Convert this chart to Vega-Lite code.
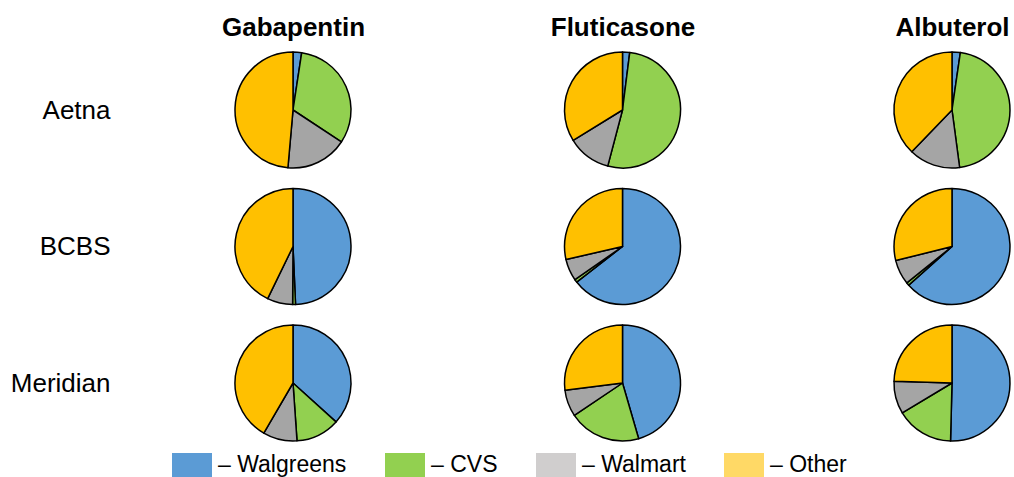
{
  "$schema": "https://vega.github.io/schema/vega-lite/v6.json",
  "autosize": {"type": "none"},
  "padding": {"left": 130, "top": 50, "right": 0, "bottom": 0},
  "width": 884,
  "height": 427,
  "background": "white",
  "config": {
    "view": {"stroke": null},
    "font": "Liberation Sans",
    "axis": {"domain": false, "ticks": false, "grid": false, "title": null, "labelColor": "black", "labelFont": "Liberation Sans"}
  },
  "data": {
    "values": [
      {"payer": "Aetna", "drug": "Gabapentin", "pharmacy": "Walgreens", "rank": 1, "share": 2.4},
      {"payer": "Aetna", "drug": "Gabapentin", "pharmacy": "CVS", "rank": 2, "share": 31.9},
      {"payer": "Aetna", "drug": "Gabapentin", "pharmacy": "Walmart", "rank": 3, "share": 17.1},
      {"payer": "Aetna", "drug": "Gabapentin", "pharmacy": "Other", "rank": 4, "share": 48.6},
      {"payer": "Aetna", "drug": "Fluticasone", "pharmacy": "Walgreens", "rank": 1, "share": 2.0},
      {"payer": "Aetna", "drug": "Fluticasone", "pharmacy": "CVS", "rank": 2, "share": 52.1},
      {"payer": "Aetna", "drug": "Fluticasone", "pharmacy": "Walmart", "rank": 3, "share": 12.1},
      {"payer": "Aetna", "drug": "Fluticasone", "pharmacy": "Other", "rank": 4, "share": 33.8},
      {"payer": "Aetna", "drug": "Albuterol", "pharmacy": "Walgreens", "rank": 1, "share": 2.3},
      {"payer": "Aetna", "drug": "Albuterol", "pharmacy": "CVS", "rank": 2, "share": 45.6},
      {"payer": "Aetna", "drug": "Albuterol", "pharmacy": "Walmart", "rank": 3, "share": 14.3},
      {"payer": "Aetna", "drug": "Albuterol", "pharmacy": "Other", "rank": 4, "share": 37.8},
      {"payer": "BCBS", "drug": "Gabapentin", "pharmacy": "Walgreens", "rank": 1, "share": 49.3},
      {"payer": "BCBS", "drug": "Gabapentin", "pharmacy": "CVS", "rank": 2, "share": 0.8},
      {"payer": "BCBS", "drug": "Gabapentin", "pharmacy": "Walmart", "rank": 3, "share": 7.1},
      {"payer": "BCBS", "drug": "Gabapentin", "pharmacy": "Other", "rank": 4, "share": 42.8},
      {"payer": "BCBS", "drug": "Fluticasone", "pharmacy": "Walgreens", "rank": 1, "share": 64.5},
      {"payer": "BCBS", "drug": "Fluticasone", "pharmacy": "CVS", "rank": 2, "share": 0.8},
      {"payer": "BCBS", "drug": "Fluticasone", "pharmacy": "Walmart", "rank": 3, "share": 6.1},
      {"payer": "BCBS", "drug": "Fluticasone", "pharmacy": "Other", "rank": 4, "share": 28.6},
      {"payer": "BCBS", "drug": "Albuterol", "pharmacy": "Walgreens", "rank": 1, "share": 63.4},
      {"payer": "BCBS", "drug": "Albuterol", "pharmacy": "CVS", "rank": 2, "share": 0.8},
      {"payer": "BCBS", "drug": "Albuterol", "pharmacy": "Walmart", "rank": 3, "share": 6.9},
      {"payer": "BCBS", "drug": "Albuterol", "pharmacy": "Other", "rank": 4, "share": 28.9},
      {"payer": "Meridian", "drug": "Gabapentin", "pharmacy": "Walgreens", "rank": 1, "share": 36.7},
      {"payer": "Meridian", "drug": "Gabapentin", "pharmacy": "CVS", "rank": 2, "share": 12.2},
      {"payer": "Meridian", "drug": "Gabapentin", "pharmacy": "Walmart", "rank": 3, "share": 9.5},
      {"payer": "Meridian", "drug": "Gabapentin", "pharmacy": "Other", "rank": 4, "share": 41.6},
      {"payer": "Meridian", "drug": "Fluticasone", "pharmacy": "Walgreens", "rank": 1, "share": 45.5},
      {"payer": "Meridian", "drug": "Fluticasone", "pharmacy": "CVS", "rank": 2, "share": 20.1},
      {"payer": "Meridian", "drug": "Fluticasone", "pharmacy": "Walmart", "rank": 3, "share": 7.4},
      {"payer": "Meridian", "drug": "Fluticasone", "pharmacy": "Other", "rank": 4, "share": 27.0},
      {"payer": "Meridian", "drug": "Albuterol", "pharmacy": "Walgreens", "rank": 1, "share": 50.4},
      {"payer": "Meridian", "drug": "Albuterol", "pharmacy": "CVS", "rank": 2, "share": 16.0},
      {"payer": "Meridian", "drug": "Albuterol", "pharmacy": "Walmart", "rank": 3, "share": 9.1},
      {"payer": "Meridian", "drug": "Albuterol", "pharmacy": "Other", "rank": 4, "share": 24.5}
    ]
  },
  "transform": [
    {"stack": "share", "groupby": ["payer", "drug"], "sort": [{"field": "rank", "order": "ascending"}], "offset": "normalize", "as": ["s0", "s1"]}
  ],
  "encoding": {
    "x": {
      "field": "drug", "type": "nominal",
      "sort": ["Gabapentin", "Fluticasone", "Albuterol"],
      "scale": {"type": "point", "range": [163, 822], "padding": 0},
      "axis": {"orient": "top", "labelFontSize": 26, "labelFontWeight": "bold", "labelPadding": 10, "labelAngle": 0}
    },
    "y": {
      "field": "payer", "type": "nominal",
      "sort": ["Aetna", "BCBS", "Meridian"],
      "scale": {"type": "point", "range": [60, 333], "padding": 0},
      "axis": {"orient": "left", "labelFontSize": 26, "labelPadding": 20, "labelAlign": "right", "labelBaseline": "middle"}
    },
    "theta": {"field": "s0", "type": "quantitative", "stack": null, "scale": {"type": "linear", "domain": [0, 1], "range": [0, 6.283185307]}},
    "theta2": {"field": "s1"}
  },
  "layer": [
    {
      "mark": {"type": "arc", "outerRadius": 58},
      "encoding": {
        "color": {
          "field": "pharmacy", "type": "nominal",
          "scale": {"domain": ["Walgreens", "CVS", "Walmart", "Other"], "range": ["#5B9BD5", "#92D050", "#D0CECE", "#FFD966"]},
          "legend": {
            "orient": "none", "legendX": 42, "legendY": 395, "direction": "horizontal", "title": null,
            "padding": 0,
            "symbolType": "M-1,-0.6H1V0.6H-1Z", "symbolSize": 1600, "symbolStrokeWidth": 0, "symbolOpacity": 1,
            "labelFontSize": 23, "labelFont": "Liberation Sans", "labelColor": "black", "labelOffset": 6,
            "columnPadding": 38, "labelExpr": "'– ' + datum.label", "labelLimit": 300
          }
        }
      }
    },
    {
      "mark": {"type": "arc", "outerRadius": 58, "stroke": "black", "strokeWidth": 1.5, "strokeJoin": "round"},
      "encoding": {
        "fill": {
          "field": "pharmacy", "type": "nominal",
          "scale": {"domain": ["Walgreens", "CVS", "Walmart", "Other"], "range": ["#5B9BD5", "#92D050", "#A5A5A5", "#FFC000"]},
          "legend": null
        }
      }
    }
  ],
  "resolve": {"scale": {"color": "independent", "fill": "independent"}}
}
